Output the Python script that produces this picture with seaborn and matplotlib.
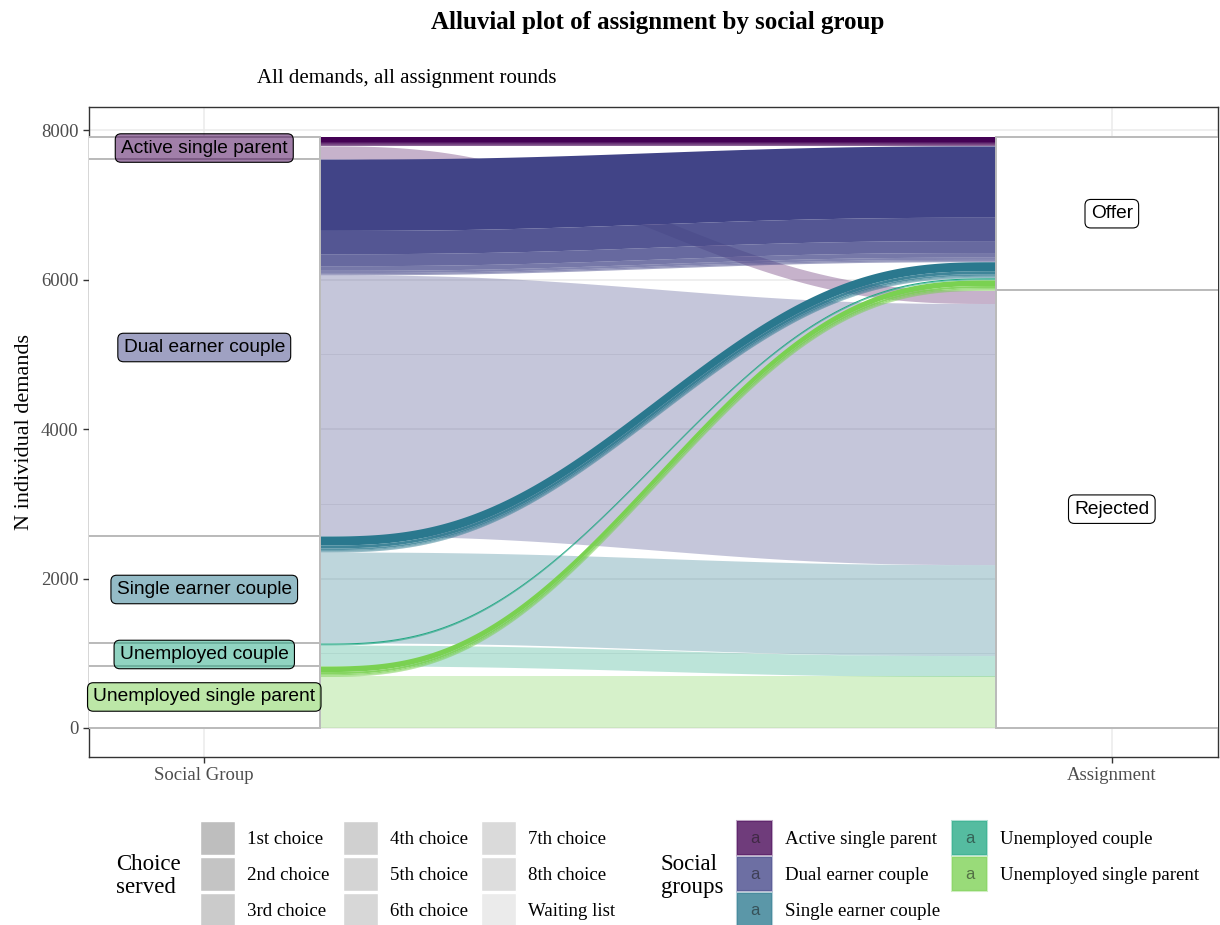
import numpy as np
import matplotlib
matplotlib.use("Agg")
import matplotlib.pyplot as plt
from matplotlib.patches import Rectangle
from matplotlib.colors import to_rgba
import seaborn as sns

# social groups (left axis, top to bottom) and their viridis colours
groups = ["Active single parent", "Dual earner couple", "Single earner couple",
          "Unemployed couple", "Unemployed single parent"]
group_colors = ["#440154", "#414487", "#2A788E", "#22A884", "#7AD151"]

choices = ["1st choice", "2nd choice", "3rd choice", "4th choice", "5th choice",
           "6th choice", "7th choice", "8th choice", "Waiting list"]
choice_alpha = [1.0, 0.9, 0.8, 0.72, 0.66, 0.61, 0.56, 0.52, 0.3]

assignments = ["Offer", "Rejected"]

# offers per choice rank (1st..8th); rejected demands go to the waiting list
offer_active = [60, 25, 14, 8, 5, 3, 2, 1]
offer_dual = [955, 312, 160, 62, 30, 17, 9, 5]
offer_single = [120, 40, 22, 12, 8, 6, 4, 3]
offer_unemp_couple = [14, 6, 3, 2, 1, 1, 1, 0]
offer_unemp_single = [75, 28, 15, 9, 6, 4, 2, 1]
rejected = [176, 3493, 1217, 279, 690]

offers = [offer_active, offer_dual, offer_single, offer_unemp_couple, offer_unemp_single]

sns.set_theme(style="white")
plt.rcParams["font.family"] = ["Liberation Serif", "DejaVu Serif"]
plt.rcParams["text.color"] = "black"
plt.rcParams["axes.labelcolor"] = "black"

SERIF = "Liberation Serif"
SANS = "Liberation Sans"
W = 0.256  # stratum width


def smooth(t):
    return 6 * t**5 - 15 * t**4 + 10 * t**3


# flows in drawing order: group -> offers by choice -> rejected
flows = []
for gi in range(len(groups)):
    for ci, v in enumerate(offers[gi]):
        flows.append((gi, ci, v, "Offer"))
    flows.append((gi, 8, rejected[gi], "Rejected"))

total = sum(f[2] for f in flows)

# left stacking
left = {}
y = total
for gi, ci, v, a in flows:
    left[(gi, ci)] = (y - v, y)
    y -= v

# right stacking: Offer block then Rejected block, each by group then choice
right = {}
y = total
for a in assignments:
    for gi, ci, v, aa in flows:
        if aa == a:
            right[(gi, ci)] = (y - v, y)
            y -= v

fig = plt.figure(figsize=(12.2, 9.25), dpi=100)
ax = fig.add_axes([89 / 1220, (925 - 757) / 925, (1218 - 89) / 1220, (757 - 107) / 925])

ax.set_xlim(0.873, 2.117)
ax.set_ylim(-388, 8308)
ax.set_yticks([0, 2000, 4000, 6000, 8000])
ax.set_yticks([1000, 3000, 5000, 7000], minor=True)
ax.set_xticks([1, 2])
ax.set_xticklabels(["Social Group", "Assignment"])
ax.grid(True, which="major", color="#ebebeb", lw=1.1, zorder=0)
ax.grid(True, which="minor", axis="y", color="#ebebeb", lw=0.6, zorder=0)
ax.set_axisbelow(True)
for s in ax.spines.values():
    s.set_color("#333333")
    s.set_linewidth(1.0)
ax.tick_params(axis="both", which="major", length=4, width=1, color="#333333",
               labelcolor="#4d4d4d", labelsize=13.5, left=True, bottom=True)
ax.tick_params(axis="both", which="minor", length=0)
for lab in ax.get_xticklabels() + ax.get_yticklabels():
    lab.set_family(SERIF)
ax.set_ylabel("N individual demands", fontsize=16, family=SERIF, labelpad=5)

x0, x1 = 1 + W / 2, 2 - W / 2
xs = np.linspace(x0, x1, 300)
s = smooth((xs - x0) / (x1 - x0))
for gi, ci, v, a in flows:
    if v <= 0:
        continue
    lb, lt = left[(gi, ci)]
    rb, rt = right[(gi, ci)]
    lower = lb + (rb - lb) * s
    upper = lt + (rt - lt) * s
    ax.fill_between(xs, lower, upper, color=group_colors[gi],
                    alpha=choice_alpha[ci], lw=0, zorder=2)

box = "round,pad=0.3,rounding_size=0.3"

# strata
y = total
group_totals = [sum(offers[i]) + rejected[i] for i in range(len(groups))]
for gi, gt in enumerate(group_totals):
    ax.add_patch(Rectangle((1 - W / 2, y - gt), W, gt, fc="white",
                           ec="#bababa", lw=1.4, zorder=3))
    ax.text(1, y - gt / 2, groups[gi], ha="center", va="center", fontsize=13.8,
            family=SANS, zorder=5,
            bbox=dict(boxstyle=box, fc=to_rgba(group_colors[gi], 0.5),
                      ec="black", lw=0.8))
    y -= gt

assign_totals = [sum(sum(o) for o in offers), sum(rejected)]
y = total
for a, at in zip(assignments, assign_totals):
    ax.add_patch(Rectangle((2 - W / 2, y - at), W, at, fc="white",
                           ec="#bababa", lw=1.4, zorder=3))
    ax.text(2, y - at / 2, a, ha="center", va="center", fontsize=13.8,
            family=SANS, zorder=5,
            bbox=dict(boxstyle=box, fc="white", ec="black", lw=0.8))
    y -= at

fig.text(658 / 1220, 1 - 23 / 925, "Alluvial plot of assignment by social group",
         ha="center", va="center", fontsize=18, fontweight="bold", family=SERIF)
fig.text(257 / 1220, 1 - 78 / 925, "All demands, all assignment rounds",
         ha="left", va="center", fontsize=15, family=SERIF)

# legends, drawn in pixel space
lg = fig.add_axes([0, 0, 1, 1], zorder=10)
lg.set_xlim(0, 1220)
lg.set_ylim(925, 0)
lg.axis("off")
lg.patch.set_alpha(0)

lg.text(116, 876, "Choice\nserved", ha="left", va="center", fontsize=16.5,
        family=SERIF, linespacing=1.1)
key_cols = [200, 343, 481]
key_rows = [821, 857, 893]
for i, (c, a) in enumerate(zip(choices, choice_alpha)):
    kx = key_cols[i // 3]
    ky = key_rows[i % 3]
    lg.add_patch(Rectangle((kx, ky), 35, 34, fc=to_rgba("#bebebe", a), ec="white", lw=1))
    lg.text(kx + 47, ky + 23, c, ha="left", va="baseline", fontsize=13.6, family=SERIF)

lg.text(661, 876, "Social\ngroups", ha="left", va="center", fontsize=16.5,
        family=SERIF, linespacing=1.1)
gcols = [737, 952]
for i, (g, c) in enumerate(zip(groups, group_colors)):
    kx = gcols[i // 3]
    ky = key_rows[i % 3]
    lg.add_patch(Rectangle((kx, ky), 35, 34, fc=to_rgba(c, 0.77),
                           ec=to_rgba(c, 0.35), lw=1.5))
    lg.text(kx + 17.5, ky + 22, "a", ha="center", va="baseline", fontsize=12,
            family=SANS, color=(0.1, 0.1, 0.1, 0.55))
    lg.text(kx + 48, ky + 23, g, ha="left", va="baseline", fontsize=13.6, family=SERIF)

fig.savefig("out.png", dpi=100)
